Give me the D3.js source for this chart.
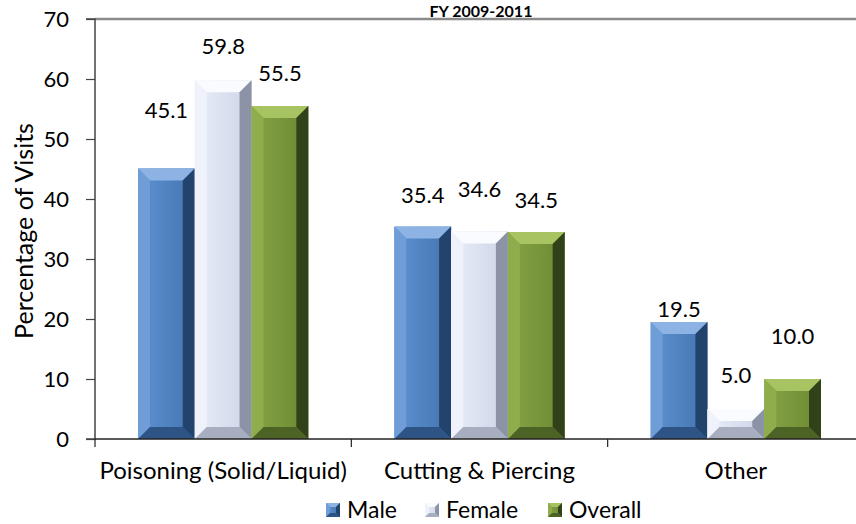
<!DOCTYPE html>
<html>
<head>
<meta charset="utf-8">
<script src="https://cdn.jsdelivr.net/npm/d3@7"></script>
<style>
  html, body { margin: 0; padding: 0; background: #fff; }
  svg { display: block; font-family: "Lato", "Carlito", "Open Sans", sans-serif; }
</style>
</head>
<body>
<svg id="chart" width="856" height="524"></svg>
<script>
// ---- data ----
const categories = ["Poisoning (Solid/Liquid)", "Cutting & Piercing", "Other"];
const seriesNames = ["Male", "Female", "Overall"];
const male    = [45.1, 35.4, 19.5];
const female  = [59.8, 34.6, 5.0];
const overall = [55.5, 34.5, 10.0];
const yTicks  = [0, 10, 20, 30, 40, 50, 60, 70];
const titleText = "FY 2009-2011";
const yTitle = "Percentage of Visits";

// label lift above the bar top (px), per series then per category
const labelLift = {
  Male:    [50, 24, 5],
  Female:  [26, 34, 26],
  Overall: [25, 24, 35]
};

const seriesValues = { Male: male, Female: female, Overall: overall };

// ---- styles ----
const palette = {
  Male:    { face0: "#5e92d2", face1: "#4474b0", top: "#8cb3e4", left: "#6f9dd8", right: "#22436b", bottom: "#2d5485" },
  Female:  { face0: "#e9eef9", face1: "#cdd4e6", top: "#fafbfe", left: "#eff2fa", right: "#8c93a6", bottom: "#a7aec0" },
  Overall: { face0: "#87a545", face1: "#6b8831", top: "#a8c362", left: "#90ad4d", right: "#31411a", bottom: "#4d6225" }
};

const svg = d3.select("#chart");
const defs = svg.append("defs");
seriesNames.forEach(s => {
  const g = defs.append("linearGradient").attr("id", "face-" + s)
    .attr("x1", "0").attr("x2", "1").attr("y1", "0").attr("y2", "0");
  g.append("stop").attr("offset", "0").attr("stop-color", palette[s].face0);
  g.append("stop").attr("offset", "1").attr("stop-color", palette[s].face1);
});

const plot = { left: 95, right: 864, top: 19, bottom: 439 };

const x0 = d3.scaleBand().domain(categories).range([plot.left, plot.right]).padding(0);
const x1 = d3.scaleBand().domain(seriesNames).range([43, x0.bandwidth() - 43]).padding(0);
const y = d3.scaleLinear().domain([0, 70]).range([plot.bottom, plot.top]);

// top border line of plot area
svg.append("line")
  .attr("x1", plot.left).attr("x2", 856)
  .attr("y1", y(70)).attr("y2", y(70))
  .attr("stroke", "#8a8a8a").attr("stroke-width", 2.5);

function bevelBar(g, x, yTop, w, h, s, bMax) {
  const b = Math.min(bMax, w / 2, h / 2);
  const p = palette[s];
  const yb = yTop + h;
  const poly = pts => pts.map(d => d.join(",")).join(" ");
  g.append("rect").attr("x", x).attr("y", yTop).attr("width", w).attr("height", h)
    .attr("fill", "url(#face-" + s + ")");
  g.append("polygon").attr("points", poly([[x, yTop], [x + w, yTop], [x + w - b, yTop + b], [x + b, yTop + b]])).attr("fill", p.top);
  g.append("polygon").attr("points", poly([[x, yTop], [x + b, yTop + b], [x + b, yb - b], [x, yb]])).attr("fill", p.left);
  g.append("polygon").attr("points", poly([[x + w, yTop], [x + w, yb], [x + w - b, yb - b], [x + w - b, yTop + b]])).attr("fill", p.right);
  g.append("polygon").attr("points", poly([[x, yb], [x + b, yb - b], [x + w - b, yb - b], [x + w, yb]])).attr("fill", p.bottom);
}

// bars
const barsG = svg.append("g");
categories.forEach((c, i) => {
  seriesNames.forEach(s => {
    const v = seriesValues[s][i];
    const bx = x0(c) + x1(s);
    const by = y(v);
    bevelBar(barsG, bx, by, x1.bandwidth(), y(0) - by, s, 12);
  });
});

// data labels
const labG = svg.append("g").attr("font-size", 22).attr("fill", "#000").attr("text-anchor", "middle");
categories.forEach((c, i) => {
  seriesNames.forEach(s => {
    const v = seriesValues[s][i];
    labG.append("text")
      .attr("x", x0(c) + x1(s) + x1.bandwidth() / 2)
      .attr("y", y(v) - labelLift[s][i])
      .text(v.toFixed(1));
  });
});

// y axis
const yAxis = svg.append("g").attr("transform", `translate(${plot.left},0)`)
  .call(d3.axisLeft(y).tickValues(yTicks).tickSize(9).tickPadding(17).tickFormat(d3.format("d")));
yAxis.select(".domain").attr("stroke", "#444").attr("stroke-width", 1.5).attr("d", `M-9,${y(70)}H0V${y(0)}H-9`);
yAxis.selectAll(".tick line").attr("stroke", "#444").attr("stroke-width", 1.2);
yAxis.selectAll(".tick text").attr("font-size", 22).attr("fill", "#000").attr("font-family", "Lato, sans-serif");

// x axis
const xAxisG = svg.append("g").attr("transform", `translate(0,${plot.bottom})`);
xAxisG.append("line").attr("x1", plot.left).attr("x2", 856).attr("y1", 0).attr("y2", 0)
  .attr("stroke", "#222").attr("stroke-width", 1.5);
xAxisG.selectAll("line.tk").data(categories).enter().append("line").attr("class", "tk")
  .attr("x1", d => x0(d)).attr("x2", d => x0(d)).attr("y1", 0).attr("y2", 8)
  .attr("stroke", "#222").attr("stroke-width", 1.2);
xAxisG.selectAll("text").data(categories).enter().append("text")
  .attr("x", d => x0(d) + x0.bandwidth() / 2).attr("y", 40)
  .attr("text-anchor", "middle").attr("font-size", 24).attr("fill", "#000")
  .text(d => d);

// y title
svg.append("text")
  .attr("transform", `translate(33,231) rotate(-90)`)
  .attr("text-anchor", "middle").attr("font-size", 25).attr("fill", "#000")
  .text(yTitle);

// title
svg.append("text").attr("x", 481).attr("y", 17).attr("text-anchor", "middle")
  .attr("font-size", 16).attr("font-weight", "bold").attr("fill", "#000")
  .text(titleText);

// legend
const legendX = [326, 425, 548];
const legG = svg.append("g");
seriesNames.forEach((s, i) => {
  const gx = legendX[i];
  bevelBar(legG, gx, 503, 14, 14, s, 4);
  legG.append("text").attr("x", gx + 21).attr("y", 518)
    .attr("font-size", 23).attr("fill", "#000").text(s);
});
</script>
</body>
</html>
